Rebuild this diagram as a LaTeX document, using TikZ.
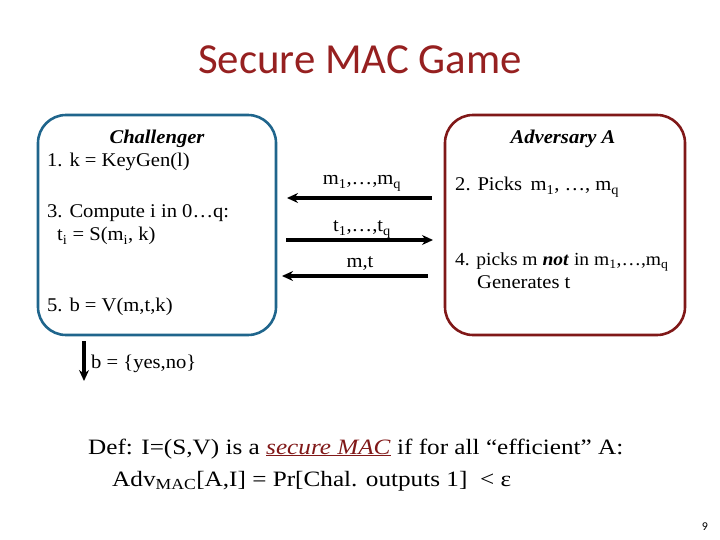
\documentclass[tikz,border=0pt]{standalone}
\usepackage{fontspec}
\setmainfont{Liberation Serif}[FakeStretch=1.06]
\newfontfamily\deffont{Liberation Serif}[FakeStretch=1.15]
\newfontfamily\titlefont{Carlito}
\usetikzlibrary{arrows.meta,positioning}
\definecolor{ChalClr}{RGB}{31,101,140}
\definecolor{AdvClr}{RGB}{128,24,24}
\definecolor{TitleClr}{RGB}{150,32,32}

\begin{document}
\begin{tikzpicture}[x=1bp,y=-1bp,
  txt/.style={anchor=base west,inner sep=0pt,font=\fontsize{19.5}{22}\selectfont},
  head/.style={anchor=base,inner sep=0pt,font=\fontsize{19.5}{22}\selectfont\bfseries\itshape},
  lbl/.style={anchor=base,inner sep=0pt,font=\fontsize{19.5}{22}\selectfont},
  msg/.style={line width=3.2pt,-{Stealth[length=11pt,width=10pt]}},
  player/.style={line width=2.6pt,rounded corners=28bp}]
\useasboundingbox (0,0) rectangle (720,540);

% title
\node[anchor=base,inner sep=0pt,font=\titlefont\fontsize{43}{46}\selectfont,text=TitleClr]
  (title) at (360,74) {Secure MAC Game};

% the two players
\draw[player,draw=ChalClr] (38,115) rectangle (276,335);
\draw[player,draw=AdvClr] (445,115) rectangle (685,335);

\node[head] (chal) at (157,144) {Challenger};
\node[txt] (c1) at (47,167) {1. k = KeyGen(l)};
\node[txt] (c3) at (47,218) {3. Compute i in 0…q:};
\node[txt] (c3b) at (57,241) {t\textsubscript{i} = S(m\textsubscript{i}, k)};
\node[txt] (c5) at (47,311) {5. b = V(m,t,k)};

\node[head] (adv) at (563,144) {Adversary A};
\node[txt] (a2) at (455,191) {2. Picks\, m\textsubscript{1}, …, m\textsubscript{q}};
\node[txt,font=\fontsize{18.5}{22}\selectfont] (a4) at (455,266)
  {4. picks m \textbf{\textit{not}} in m\textsubscript{1},…,m\textsubscript{q}};
\node[txt] (a4b) at (477,288) {Generates t};

% messages
\coordinate (q1) at (432,198);  \coordinate (q0) at (287,198);
\coordinate (t0) at (286,240);  \coordinate (t1) at (433,240);
\coordinate (f1) at (428,276);  \coordinate (f0) at (282,276);
\draw[msg] (q1) -- (q0);
\draw[msg] (t0) -- (t1);
\draw[msg] (f1) -- (f0);
\node[lbl] (lq) at (362,185) {m\textsubscript{1},…,m\textsubscript{q}};
\node[lbl] (lt) at (362,232) {t\textsubscript{1},…,t\textsubscript{q}};
\node[lbl] (lf) at (360,268) {m,t};

% output
\coordinate (o0) at (84,341); \coordinate (o1) at (84,381);
\draw[msg] (o0) -- (o1);
\node[txt] (out) at (91,368) {b = \{yes,no\}};

% definition
\node[txt,font=\deffont\fontsize{22}{26}\selectfont] (def) at (88,454)
  {Def: I=(S,V) is a \textcolor{AdvClr}{\underline{\textit{secure MAC}}} if for all “efficient” A:};
\node[txt,font=\deffont\fontsize{22}{26}\selectfont] (adv) at (112,486)
  {Adv\textsubscript{MAC}[A,I] = Pr[Chal. outputs 1] \ < ε};

\node[anchor=base,inner sep=0pt,font=\titlefont\fontsize{12}{13}\selectfont] (pg) at (705,530) {9};
\end{tikzpicture}
\end{document}
